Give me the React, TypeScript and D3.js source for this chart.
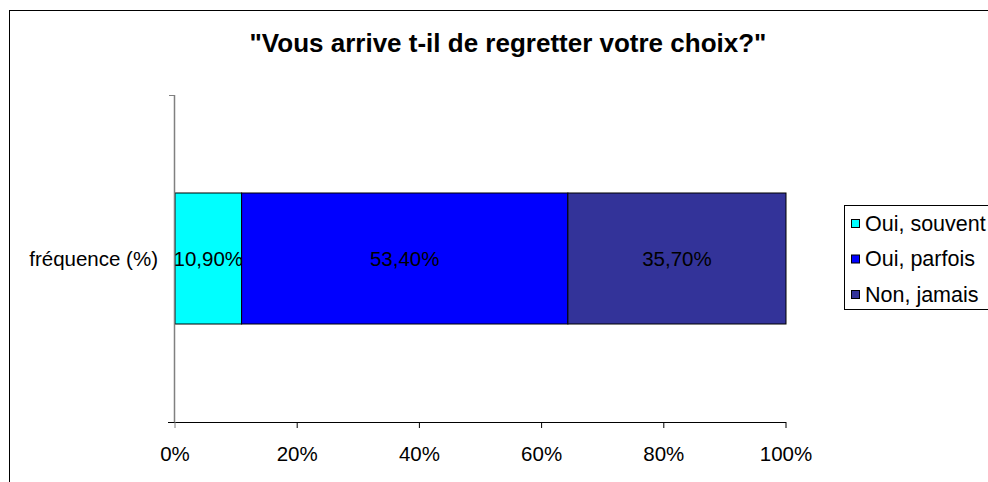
import React from "react";
import * as d3 from "d3";

const title = '"Vous arrive t-il de regretter votre choix?"';
const category = "fréquence (%)";
const seriesNames = ["Oui, souvent", "Oui, parfois", "Non, jamais"];
const seriesValues = [10.9, 53.4, 35.7];
const seriesLabels = ["10,90%", "53,40%", "35,70%"];
const seriesColors = ["#00FFFF", "#0000FF", "#333399"];
const xTicks = [0, 20, 40, 60, 80, 100];

const W = 988;
const H = 482;
const FONT = "'Liberation Sans', Arial, sans-serif";

export default function App() {
  const x = d3.scaleLinear().domain([0, 100]).range([175, 786]);
  const y = d3.scaleBand().domain([category]).range([95, 422]).paddingInner(0).paddingOuter(0.748);
  const stacked = seriesValues.reduce<{ start: number; end: number }[]>((acc, v) => {
    const s = acc.length ? acc[acc.length - 1].end : 0;
    acc.push({ start: s, end: s + v });
    return acc;
  }, []);
  const bandY = y(category)!;
  const bh = y.bandwidth();
  const cy = bandY + bh / 2;
  return (
    <svg width={W} height={H} style={{ position: "absolute", left: 0, top: 0, display: "block" }} fontFamily={FONT}>
      <rect x={0} y={0} width={W} height={H} fill="#fff" />
      <rect x={9.5} y={10.5} width={W} height={H} fill="none" stroke="#000" strokeWidth={1} />
      <text x={508} y={52} textAnchor="middle" fontSize={26} fontWeight="bold" fill="#000">{title}</text>
      {stacked.map((s, i) => (
        <rect key={i} x={x(s.start)} y={bandY} width={x(s.end) - x(s.start)} height={bh}
          fill={seriesColors[i]} stroke="#000" strokeWidth={1} />
      ))}
      {stacked.map((s, i) => (
        <text key={"l" + i} x={(x(s.start) + x(s.end)) / 2} y={cy + 7.5} textAnchor="middle"
          fontSize={20.5} fill="#000">{seriesLabels[i]}</text>
      ))}
      {/* y axis */}
      <line x1={174.5} x2={174.5} y1={95} y2={422} stroke="#808080" strokeWidth={1.5} />
      <line x1={169} x2={175} y1={95.5} y2={95.5} stroke="#808080" strokeWidth={1} />
      <text x={158} y={cy + 7.5} textAnchor="end" fontSize={20.5} fill="#000">{category}</text>
      {/* x axis */}
      <line x1={168} x2={786} y1={422.5} y2={422.5} stroke="#000" strokeWidth={1} />
      {xTicks.map((t) => (
        <g key={t}>
          <line x1={x(t)} x2={x(t)} y1={422} y2={428} stroke={t === 0 ? "#808080" : "#000"} strokeWidth={1} />
          <text x={x(t)} y={461} textAnchor="middle" fontSize={20.5} fill="#000">{t + "%"}</text>
        </g>
      ))}
      {/* legend */}
      <rect x={844.5} y={205.5} width={160} height={104} fill="#fff" stroke="#000" strokeWidth={1} />
      {seriesNames.map((n, i) => (
        <g key={n}>
          <rect x={851.5} y={219.5 + i * 35.5} width={8} height={8} fill={seriesColors[i]} stroke="#000" strokeWidth={1} />
          <text x={865} y={223 + i * 35.5 + 7.5} fontSize={21.5} fill="#000">{n}</text>
        </g>
      ))}
    </svg>
  );
}
